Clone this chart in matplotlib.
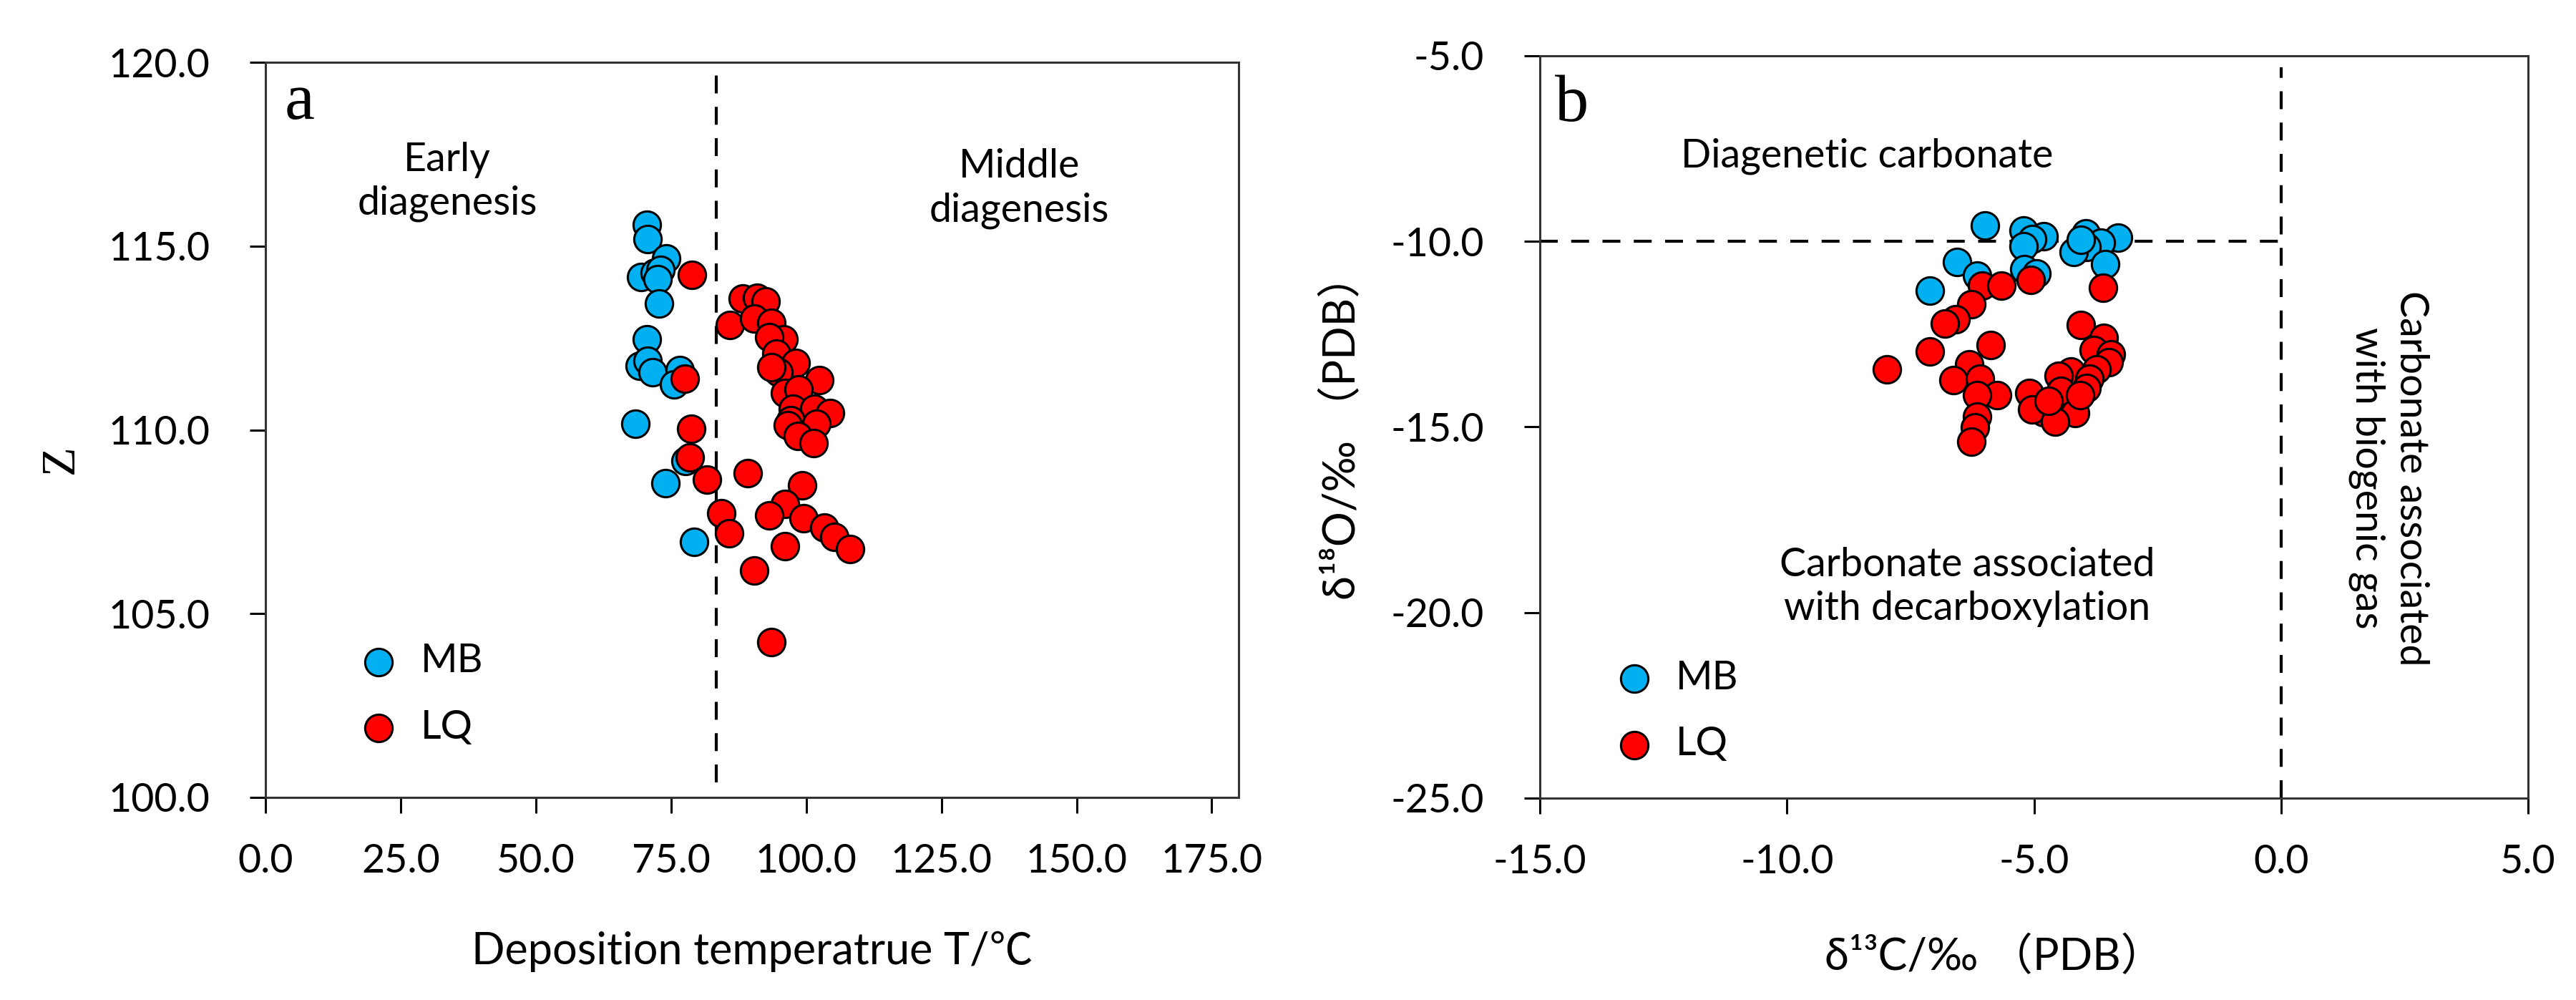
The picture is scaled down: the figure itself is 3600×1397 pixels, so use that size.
import matplotlib
matplotlib.use("Agg")
import matplotlib.pyplot as plt

plt.rcParams['font.family'] = ['Lato', 'Noto Sans CJK SC', 'DejaVu Sans']
plt.rcParams['axes.unicode_minus'] = False

# ---- panel a: deposition temperature vs Z ----
mb_t = [70.5, 70.7, 74.1, 69.4, 72.0, 73.0, 72.5, 72.8, 70.5, 69.2, 70.7, 71.6,
        76.6, 75.5, 68.4, 77.7, 74.0, 79.2]
mb_z = [115.58, 115.19, 114.67, 114.15, 114.28, 114.35, 114.09, 113.44, 112.46, 111.75,
        111.88, 111.56, 111.62, 111.23, 110.16, 109.16, 108.54, 106.95]

lq_t = [78.8, 88.3, 90.9, 92.5, 85.9, 90.4, 93.6, 95.8, 93.2, 94.5, 98.0, 94.9,
        93.6, 96.0, 102.4, 98.6, 97.5, 101.5, 104.4, 97.1, 101.9, 96.6, 98.4, 101.3,
        77.5, 78.7, 78.4, 81.6, 89.2, 99.3, 96.0, 93.1, 84.3, 99.5, 103.3, 105.2,
        108.1, 85.7, 96.0, 90.4, 93.6]
lq_z = [114.22, 113.57, 113.60, 113.50, 112.85, 113.02, 112.92, 112.46, 112.53, 112.08,
        111.82, 111.56, 111.70, 111.00, 111.36, 111.10, 110.58, 110.58, 110.45, 110.26,
        110.16, 110.13, 109.84, 109.64, 111.39, 110.02, 109.25, 108.65, 108.83, 108.49,
        107.99, 107.67, 107.73, 107.60, 107.34, 107.08, 106.76, 107.18, 106.84, 106.18,
        104.23]

t_split = 83.3

# ---- panel b: d13C vs d18O ----
mb_c = [-6.00, -5.21, -4.80, -5.04, -5.21, -5.19, -4.95, -3.95, -3.30, -3.64, -3.93,
        -4.19, -3.56, -6.56, -6.15, -7.11, -4.05]
mb_o = [-9.58, -9.71, -9.87, -9.94, -10.13, -10.74, -10.87, -9.78, -9.90, -10.03, -10.16,
        -10.29, -10.61, -10.55, -10.93, -11.32, -9.95]

lq_c = [-6.05, -5.66, -5.06, -3.61, -6.27, -6.58, -6.80, -7.11, -7.98, -5.87, -6.31,
        -6.63, -6.10, -5.74, -6.15, -6.15, -6.20, -6.27, -4.05, -3.59, -3.79, -3.44,
        -3.49, -3.73, -4.26, -4.50, -3.88, -3.93, -5.09, -4.46, -4.80, -4.17, -5.04,
        -4.58, -4.07, -4.70]
lq_o = [-11.19, -11.19, -11.03, -11.25, -11.70, -12.09, -12.22, -12.96, -13.44, -12.80,
        -13.31, -13.73, -13.70, -14.15, -14.15, -14.73, -15.01, -15.40, -12.25, -12.60,
        -12.93, -13.05, -13.25, -13.44, -13.50, -13.63, -13.70, -13.95, -14.08, -14.02,
        -14.60, -14.63, -14.53, -14.85, -14.15, -14.30]

blue = '#00B0F0'
red = '#FF0000'
msize = 190
fs = 20

fig = plt.figure(figsize=(18, 6.985), dpi=200)
ax1 = fig.add_axes([0.1031, 0.2026, 0.3778, 0.7351])
ax2 = fig.add_axes([0.5978, 0.2019, 0.3836, 0.7423])

for ax in (ax1, ax2):
    for sp in ax.spines.values():
        sp.set_linewidth(1.1)
        sp.set_color('#333333')
    ax.tick_params(direction='out', length=8, width=1.1, labelsize=fs, pad=15)
    ax.tick_params(axis='y', pad=20)

# panel a
ax1.scatter(mb_t, mb_z, s=msize, c=blue, edgecolors='black', linewidths=1.1, label='MB', zorder=3)
ax1.scatter(lq_t, lq_z, s=msize, c=red, edgecolors='black', linewidths=1.1, label='LQ', zorder=3)
ax1.plot([t_split, t_split], [100.4, 120], color='black', lw=1.5, dashes=(6, 4.5), zorder=2)
ax1.set_xlim(0, 180)
ax1.set_ylim(100, 120)
ax1.set_xticks([0, 25, 50, 75, 100, 125, 150, 175])
ax1.set_yticks([100, 105, 110, 115, 120])
ax1.xaxis.set_major_formatter('{x:.1f}')
ax1.yaxis.set_major_formatter('{x:.1f}')
ax1.set_xlabel('Deposition temperatrue T/℃', fontsize=22)
ax1.xaxis.set_label_coords(0.5, -0.21)
ax1.xaxis.label.set_va('center')
ax1.set_ylabel('Z', fontsize=24, family='Liberation Serif')
ax1.yaxis.set_label_coords(-0.21, 0.46)
ax1.yaxis.label.set_va('center')
ax1.text(6.3, 118.9, 'a', fontsize=34, family='Liberation Serif', ha='center', va='center')
ax1.text(33.6, 116.75, 'Early\ndiagenesis', fontsize=fs, ha='center', va='center', linespacing=1.25)
ax1.text(139.4, 116.57, 'Middle\ndiagenesis', fontsize=fs, ha='center', va='center', linespacing=1.25)
ax1.legend(loc='center left', bbox_to_anchor=(0.055, 0.14), frameon=False, fontsize=fs,
           handletextpad=0.05, labelspacing=0.75, borderpad=0, scatterpoints=1)

# panel b
ax2.scatter(mb_c, mb_o, s=msize, c=blue, edgecolors='black', linewidths=1.1, label='MB', zorder=3)
ax2.scatter(lq_c, lq_o, s=msize, c=red, edgecolors='black', linewidths=1.1, label='LQ', zorder=3)
ax2.plot([-15, 0], [-10, -10], color='black', lw=1.5, dashes=(6, 4.5), zorder=2)
ax2.plot([0, 0], [-25, -5.3], color='black', lw=1.5, dashes=(6, 4.5), zorder=2)
ax2.set_xlim(-15, 5)
ax2.set_ylim(-25, -5)
ax2.set_xticks([-15, -10, -5, 0, 5])
ax2.set_yticks([-25, -20, -15, -10, -5])
ax2.xaxis.set_major_formatter('{x:.1f}')
ax2.yaxis.set_major_formatter('{x:.1f}')
ax2.set_xlabel('δ¹³C/‰ （PDB）', fontsize=22)
ax2.xaxis.set_label_coords(0.46, -0.214)
ax2.xaxis.label.set_va('center')
ax2.set_ylabel('δ¹⁸O/‰ （PDB）', fontsize=22)
ax2.yaxis.set_label_coords(-0.20, 0.50)
ax2.yaxis.label.set_va('center')
ax2.text(-14.36, -6.33, 'b', fontsize=34, family='Liberation Serif', ha='center', va='center')
ax2.text(-8.38, -7.70, 'Diagenetic carbonate', fontsize=fs, ha='center', va='center')
ax2.text(-6.35, -19.31, 'Carbonate associated\nwith decarboxylation', fontsize=fs,
         ha='center', va='center', linespacing=1.25)
ax2.text(2.18, -16.38, 'Carbonate associated\nwith biogenic gas', fontsize=fs, rotation=270,
         ha='center', va='center', linespacing=1.25)
ax2.legend(loc='center left', bbox_to_anchor=(0.035, 0.117), frameon=False, fontsize=fs,
           handletextpad=0.05, labelspacing=0.75, borderpad=0, scatterpoints=1)

fig.savefig('out.png', dpi=200)
